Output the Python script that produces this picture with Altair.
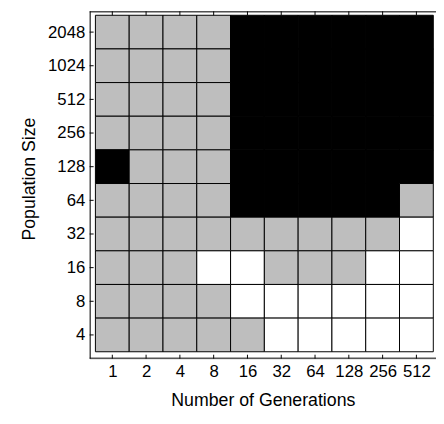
import json
import altair as alt
import pandas as pd

generations = ["1", "2", "4", "8", "16", "32", "64", "128", "256", "512"]
populations = ["4", "8", "16", "32", "64", "128", "256", "512", "1024", "2048"]
# rows listed from top (2048) to bottom (4); G = gray, B = black, W = white
grid_rows = [
    "GGGGBBBBBB",  # 2048
    "GGGGBBBBBB",  # 1024
    "GGGGBBBBBB",  # 512
    "GGGGBBBBBB",  # 256
    "BGGGBBBBBB",  # 128
    "GGGGBBBBBG",  # 64
    "GGGGGGGGGW",  # 32
    "GGGWWGGGWW",  # 16
    "GGGGWWWWWW",  # 8
    "GGGGGWWWWW",  # 4
]
states = ["G", "B", "W"]
state_colors = ["#bebebe", "#000000", "#ffffff"]

recs = []
n = len(grid_rows)
for r, row in enumerate(grid_rows):
    j = n - 1 - r
    for i, c in enumerate(row):
        recs.append({"x": i, "x2": i + 1, "y": j, "y2": j + 1, "state": c})
cells = pd.DataFrame(recs)
ticks = pd.DataFrame({"pos": [i + 0.5 for i in range(len(generations))]})
one = pd.DataFrame({"a": [0]})

W, H = 352, 353
xscale = alt.Scale(domain=[-0.17, 10.08], nice=False, zero=False)
yscale = alt.Scale(domain=[-0.205, 10.117], nice=False, zero=False)

FONT = "Liberation Sans"
LABEL_SIZE = 17
TITLE_SIZE = 18
xlabel_expr = json.dumps(generations) + "[floor(datum.value)]"
ylabel_expr = json.dumps(populations) + "[floor(datum.value)]"

rects = alt.Chart(cells).mark_rect(stroke="black", strokeWidth=1).encode(
    x=alt.X("x:Q", scale=xscale,
            axis=alt.Axis(values=[i + 0.5 for i in range(10)], labelExpr=xlabel_expr,
                          orient="bottom",
                          ticks=False, domain=False, grid=False,
                          title="Number of Generations", labelPadding=5,
                          titlePadding=13, labelFont=FONT, titleFont=FONT,
                          labelFontSize=LABEL_SIZE, titleFontSize=TITLE_SIZE,
                          titleFontWeight="normal",
                          labelColor="black", titleColor="black")),
    x2="x2:Q",
    y=alt.Y("y:Q", scale=yscale,
            axis=alt.Axis(values=[i + 0.5 for i in range(10)], labelExpr=ylabel_expr,
                          orient="left",
                          ticks=False, domain=False, grid=False,
                          title="Population Size", labelPadding=5,
                          titlePadding=9, labelFont=FONT, titleFont=FONT,
                          labelFontSize=LABEL_SIZE, titleFontSize=TITLE_SIZE,
                          titleFontWeight="normal",
                          labelColor="black", titleColor="black", titleY=170)),
    y2="y2:Q",
    color=alt.Color("state:N", scale=alt.Scale(domain=states, range=state_colors), legend=None),
)

bottom_ticks = alt.Chart(ticks).mark_rule(color="black", strokeWidth=1).encode(
    x=alt.X("pos:Q", scale=xscale, axis=None), y=alt.value(H), y2=alt.value(H - 4))
top_ticks = alt.Chart(ticks).mark_rule(color="black", strokeWidth=1).encode(
    x=alt.X("pos:Q", scale=xscale, axis=None), y=alt.value(0), y2=alt.value(4))
left_ticks = alt.Chart(ticks).mark_rule(color="black", strokeWidth=1).encode(
    y=alt.Y("pos:Q", scale=yscale, axis=None), x=alt.value(0), x2=alt.value(4))

frame_left = alt.Chart(one).mark_rule(color="black", strokeWidth=1).encode(
    x=alt.value(0.5), y=alt.value(0), y2=alt.value(H))
frame_top = alt.Chart(one).mark_rule(color="black", strokeWidth=1).encode(
    y=alt.value(0.5), x=alt.value(0), x2=alt.value(W))
frame_bottom = alt.Chart(one).mark_rule(color="black", strokeWidth=1).encode(
    y=alt.value(H - 0.5), x=alt.value(0), x2=alt.value(W))

chart = alt.layer(
    rects, bottom_ticks, top_ticks, left_ticks, frame_left, frame_top, frame_bottom
).resolve_axis(
    x="independent", y="independent"
).properties(
    width=W, height=H,
    autosize=alt.AutoSizeParams(type="none"),
    padding={"left": 83, "top": 0, "right": 0, "bottom": 62},
).configure_view(stroke=None).configure(background="white")

chart.save("out.html", embed_options={"renderer": "svg", "actions": False})
